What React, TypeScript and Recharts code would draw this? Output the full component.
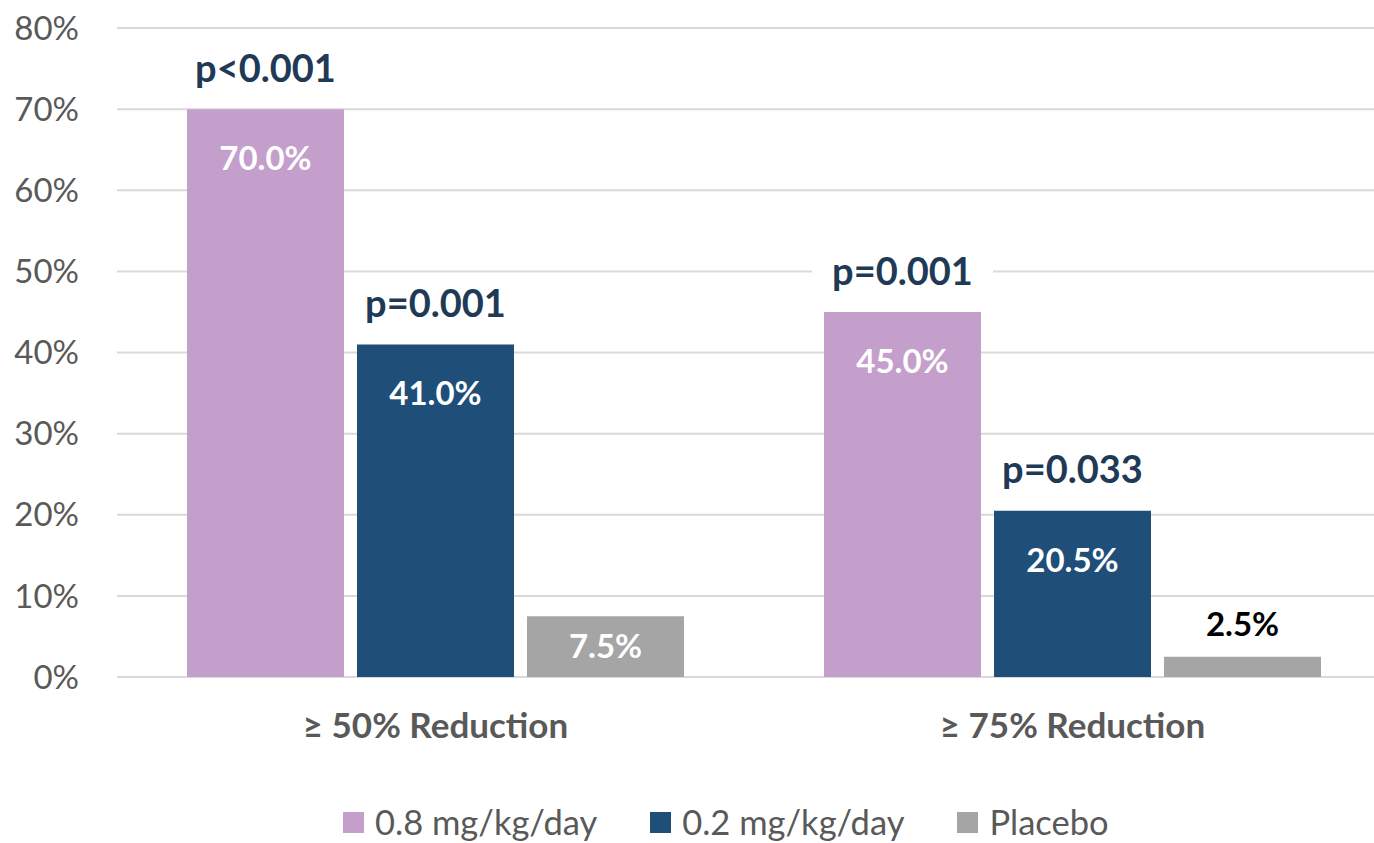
import React from "react";
import {
  BarChart,
  Bar,
  XAxis,
  YAxis,
  CartesianGrid,
  Legend,
  LabelList
} from "recharts";

const categories = ["≥ 50% Reduction", "≥ 75% Reduction"];
const highDose = [70.0, 45.0];
const lowDose = [41.0, 20.5];
const placebo = [7.5, 2.5];
const highDoseP = ["p<0.001", "p=0.001"];
const lowDoseP = ["p=0.001", "p=0.033"];
const yTicks = [0, 10, 20, 30, 40, 50, 60, 70, 80];

const series = [
  { key: "high", name: "0.8 mg/kg/day", color: "#C49FCB" },
  { key: "low", name: "0.2 mg/kg/day", color: "#1F4E79" },
  { key: "placebo", name: "Placebo", color: "#A5A5A5" }
];

const data = categories.map((category, i) => ({
  category,
  high: highDose[i],
  low: lowDose[i],
  placebo: placebo[i],
  highP: highDoseP[i],
  lowP: lowDoseP[i]
}));

const FONT = "Lato, 'Open Sans', sans-serif";
const GREY_TEXT = "#595959";

function ValueLabel(props: any) {
  const { x, y, width, height, value } = props;
  const text = `${Number(value).toFixed(1)}%`;
  const cx = x + width / 2;
  // short bars get their label above the bar in black
  if (height < 40) {
    return (
      <text x={cx} y={y - 33} dy="0.36em" textAnchor="middle" fill="#000000"
        fontFamily={FONT} fontWeight={700} fontSize={33}>
        {text}
      </text>
    );
  }
  const cy = Math.min(y + 49, y + height / 2);
  return (
    <text x={cx} y={cy} dy="0.36em" textAnchor="middle" fill="#FFFFFF"
      fontFamily={FONT} fontWeight={700} fontSize={33}>
      {text}
    </text>
  );
}

function PLabel(props: any) {
  const { x, y, width, value } = props;
  if (!value) return null;
  const cx = x + width / 2;
  const cy = y - 41;
  return (
    <g>
      <rect x={x - 12} y={cy - 22} width={width + 24} height={44} fill="#FFFFFF" />
      <text x={cx} y={cy} dy="0.36em" textAnchor="middle" fill="#1F3A56"
        fontFamily={FONT} fontWeight={700} fontSize={38}>
        {value}
      </text>
    </g>
  );
}

function LegendContent() {
  return (
    <div style={{ height: 39 }}>
      <div style={{ display: "flex", alignItems: "center", height: 36, paddingLeft: 335 }}>
        {series.map((s) => (
          <div key={s.key} style={{ display: "flex", alignItems: "center", marginRight: 53 }}>
            <span style={{ width: 21, height: 21, background: s.color, display: "inline-block", marginRight: 11 }} />
            <span style={{ fontFamily: FONT, fontSize: 34.5, color: GREY_TEXT, lineHeight: "36px", whiteSpace: "nowrap" }}>{s.name}</span>
          </div>
        ))}
      </div>
    </div>
  );
}

export default function App() {
  return (
    <div style={{ position: "fixed", top: 0, left: 0, width: 1374, height: 843, overflow: "hidden", background: "#fff" }}>
      <div style={{ position: "absolute", top: 8, left: 8 }}>
        <BarChart
          width={1390}
          height={835}
          data={data}
          margin={{ top: 20, right: 7, bottom: 0, left: 0 }}
          barCategoryGap={70}
          barGap={13}
        >
          <CartesianGrid vertical={false} stroke="#D9D9D9" strokeWidth={2} />
          <XAxis
            dataKey="category"
            axisLine={false}
            tickLine={false}
            tickSize={0}
            tickMargin={36}
            height={127}
            tick={{ fontFamily: FONT, fontSize: 35, fontWeight: 700, fill: GREY_TEXT }}
          />
          <YAxis
            domain={[0, 80]}
            ticks={yTicks}
            width={109}
            axisLine={false}
            tickLine={false}
            tickSize={0}
            tickMargin={38}
            tickFormatter={(v) => `${v}%`}
            tick={{ fontFamily: FONT, fontSize: 33, fill: GREY_TEXT }}
          />
          <Legend verticalAlign="bottom" content={<LegendContent />} />
          <Bar dataKey="high" name={series[0].name} fill={series[0].color} isAnimationActive={false}>
            <LabelList dataKey="high" content={<ValueLabel />} />
            <LabelList dataKey="highP" content={<PLabel />} />
          </Bar>
          <Bar dataKey="low" name={series[1].name} fill={series[1].color} isAnimationActive={false}>
            <LabelList dataKey="low" content={<ValueLabel />} />
            <LabelList dataKey="lowP" content={<PLabel />} />
          </Bar>
          <Bar dataKey="placebo" name={series[2].name} fill={series[2].color} isAnimationActive={false}>
            <LabelList dataKey="placebo" content={<ValueLabel />} />
          </Bar>
        </BarChart>
      </div>
    </div>
  );
}
